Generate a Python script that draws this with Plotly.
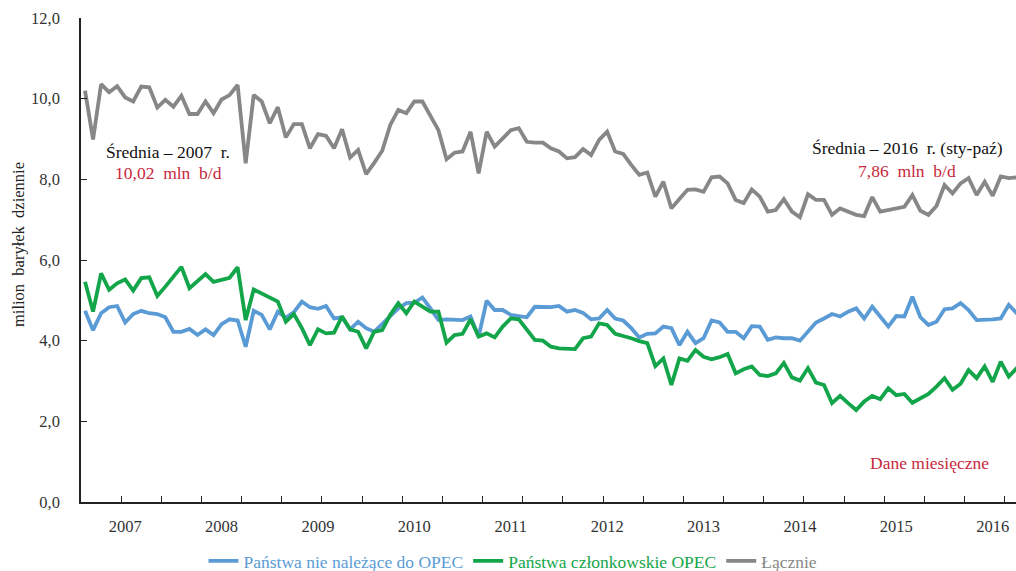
import plotly.graph_objects as go

# Monthly data, Jan 2007 - Oct 2016 (million barrels per day)
total = [10.20, 8.99, 10.36, 10.16, 10.31, 10.03, 9.93, 10.30, 10.28, 9.78, 9.97, 9.80,
         10.07, 9.62, 9.62, 9.93, 9.64, 9.98, 10.09, 10.34, 8.40, 10.09, 9.93, 9.39,
         9.79, 9.04, 9.37, 9.37, 8.77, 9.12, 9.08, 8.77, 9.24, 8.54, 8.73, 8.13,
         8.41, 8.71, 9.35, 9.72, 9.64, 9.93, 9.93, 9.55, 9.22, 8.50, 8.66, 8.69,
         9.18, 8.15, 9.18, 8.81, 9.02, 9.22, 9.27, 8.93, 8.91, 8.91, 8.77, 8.69,
         8.52, 8.55, 8.75, 8.60, 8.98, 9.18, 8.69, 8.63, 8.36, 8.11, 8.17, 7.57,
         7.94, 7.28, 7.51, 7.74, 7.75, 7.69, 8.05, 8.07, 7.90, 7.49, 7.41, 7.75,
         7.57, 7.20, 7.24, 7.51, 7.20, 7.06, 7.63, 7.49, 7.49, 7.12, 7.28, 7.20,
         7.12, 7.09, 7.56, 7.20, 7.24, 7.28, 7.32, 7.61, 7.22, 7.12, 7.34, 7.86,
         7.65, 7.90, 8.03, 7.61, 7.94, 7.59, 8.07, 8.03, 8.05, 7.95]

non_opec = [4.74, 4.26, 4.68, 4.83, 4.86, 4.45, 4.66, 4.74, 4.68, 4.66, 4.58, 4.22,
            4.22, 4.29, 4.14, 4.28, 4.14, 4.41, 4.53, 4.50, 3.85, 4.74, 4.64, 4.28,
            4.72, 4.57, 4.71, 4.97, 4.83, 4.79, 4.86, 4.55, 4.58, 4.28, 4.47, 4.31,
            4.22, 4.43, 4.61, 4.80, 4.93, 4.94, 5.07, 4.80, 4.51, 4.53, 4.51, 4.51,
            4.60, 4.10, 4.99, 4.76, 4.76, 4.64, 4.61, 4.58, 4.84, 4.84, 4.83, 4.86,
            4.72, 4.76, 4.69, 4.53, 4.55, 4.76, 4.55, 4.50, 4.31, 4.08, 4.17, 4.18,
            4.35, 4.31, 3.89, 4.22, 3.94, 4.06, 4.50, 4.45, 4.22, 4.22, 4.06, 4.36,
            4.35, 4.02, 4.08, 4.06, 4.06, 4.00, 4.22, 4.45, 4.55, 4.66, 4.60, 4.72,
            4.80, 4.55, 4.84, 4.60, 4.35, 4.61, 4.60, 5.09, 4.58, 4.39, 4.47, 4.78,
            4.80, 4.93, 4.76, 4.51, 4.51, 4.53, 4.55, 4.89, 4.68, 4.62]

opec = [5.46, 4.72, 5.67, 5.26, 5.42, 5.52, 5.24, 5.55, 5.57, 5.11, 5.34, 5.59,
        5.83, 5.30, 5.46, 5.65, 5.46, 5.52, 5.56, 5.82, 4.51, 5.27, 5.17, 5.05,
        4.97, 4.47, 4.66, 4.31, 3.89, 4.28, 4.18, 4.20, 4.60, 4.28, 4.22, 3.81,
        4.22, 4.26, 4.64, 4.93, 4.68, 4.97, 4.84, 4.72, 4.72, 3.95, 4.14, 4.17,
        4.53, 4.10, 4.18, 4.08, 4.35, 4.55, 4.53, 4.26, 4.02, 4.00, 3.85, 3.81,
        3.79, 3.79, 4.06, 4.10, 4.43, 4.39, 4.17, 4.12, 4.06, 3.99, 3.94, 3.37,
        3.56, 2.90, 3.56, 3.50, 3.77, 3.60, 3.54, 3.59, 3.67, 3.19, 3.29, 3.36,
        3.15, 3.12, 3.19, 3.45, 3.09, 3.01, 3.32, 2.96, 2.90, 2.45, 2.63, 2.45,
        2.28, 2.49, 2.63, 2.55, 2.82, 2.65, 2.68, 2.46, 2.57, 2.68, 2.86, 3.07,
        2.78, 2.93, 3.27, 3.07, 3.36, 2.98, 3.48, 3.11, 3.32, 3.35]

years = ["2007", "2008", "2009", "2010", "2011", "2012", "2013", "2014", "2015", "2016"]

series_names = ["Państwa nie należące do OPEC", "Państwa członkowskie OPEC", "Łącznie"]
series_colors = ["#5b9bd5", "#13a54a", "#878787"]

months = list(range(len(total)))

SERIF = "Liberation Serif, Times New Roman, serif"

fig = go.Figure()
for name, vals, col in zip(series_names, [non_opec, opec, total], series_colors):
    fig.add_trace(go.Scatter(
        x=months, y=vals, mode="lines", name=f"<span style='color:{col}'>{name}</span>",
        line=dict(color=col, width=3.8),
    ))

# pixel -> paper helpers (plot area: x 81..1016, y 18..502)
L, R, T, B = 81, 1016, 18, 502
def px(x):
    return (x - L) / (R - L)
def py(y):
    return (B - y) / (B - T)

red = "#c8283c"
annos = [
    dict(text="Średnia – 2007  r.", x=px(168), y=py(152), color="#111111"),
    dict(text="10,02  mln  b/d", x=px(168), y=py(173), color=red),
    dict(text="Średnia – 2016  r. (sty-paź)", x=px(907), y=py(148), color="#111111"),
    dict(text="7,86  mln  b/d", x=px(907), y=py(171), color=red),
    dict(text="Dane miesięczne", x=px(929), y=py(463), color=red),
]
for a in annos:
    fig.add_annotation(text=a["text"], x=a["x"], y=a["y"], xref="paper", yref="paper",
                       showarrow=False, xanchor="center", yanchor="middle",
                       font=dict(family=SERIF, size=17.5, color=a["color"]))

fig.add_annotation(text="milion  baryłek  dziennie", x=px(18), y=py(245), xref="paper", yref="paper",
                   showarrow=False, textangle=-90, xanchor="center", yanchor="middle",
                   font=dict(family=SERIF, size=16.5, color="#222222"))

fig.update_layout(
    width=1016, height=571,
    margin=dict(l=L, r=1016 - R, t=T, b=571 - B, autoexpand=False),
    paper_bgcolor="white", plot_bgcolor="white",
    separators=", ",
    showlegend=True,
    legend=dict(orientation="h", x=px(513), y=py(561), xanchor="center", yanchor="middle",
                font=dict(family=SERIF, size=17.5, color="#555555"),
                itemwidth=30, tracegroupgap=0, bgcolor="rgba(0,0,0,0)"),
    xaxis=dict(
        range=[-0.5, 115.9], automargin=False,
        tickmode="array",
        tickvals=[5 + 12 * k for k in range(len(years))],
        ticktext=years,
        ticks="", showgrid=False, zeroline=False,
        showline=True, linecolor="#222222", linewidth=1.5,
        tickfont=dict(family=SERIF, size=16.5, color="#333333"),
        ticklabelstandoff=8,
        minor=dict(tickmode="array", tickvals=[4.5 + 5 * k for k in range(24)],
                   ticks="inside", ticklen=6, tickcolor="#222222", tickwidth=1.2, showgrid=False),
    ),
    yaxis=dict(
        range=[0, 12], tickmode="array", tickvals=[0, 2, 4, 6, 8, 10, 12], automargin=False,
        tickformat=".1f", ticks="inside", ticklen=6, tickcolor="#222222", tickwidth=1.2,
        showgrid=False, zeroline=False,
        showline=True, linecolor="#222222", linewidth=1.5,
        tickfont=dict(family=SERIF, size=16.5, color="#333333"),
        ticklabelstandoff=16,
    ),
)

fig.write_html("out.html", config={"displayModeBar": False},
               post_script="document.body.style.margin='0px';document.body.style.overflow='hidden';")
